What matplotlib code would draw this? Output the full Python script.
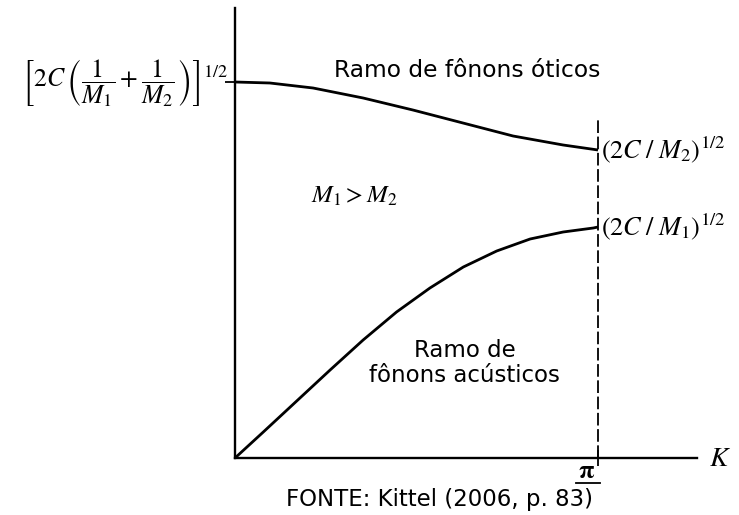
import numpy as np
import matplotlib
matplotlib.use("Agg")
import matplotlib.pyplot as plt
from matplotlib.transforms import ScaledTranslation

plt.rcParams["mathtext.fontset"] = "stix"
plt.rcParams["font.family"] = ["DejaVu Sans"]

# wavevector as a fraction of pi (zone boundary = 1)
k_optical = [0.0, 0.096, 0.215, 0.353, 0.49, 0.628, 0.766, 0.904, 1.0]
w_optical = [3.76, 3.75, 3.70, 3.60, 3.48, 3.35, 3.22, 3.13, 3.08]

k_acoustic = [0.0, 0.078, 0.170, 0.262, 0.353, 0.445, 0.537, 0.629,
              0.721, 0.813, 0.904, 0.987, 1.0]
w_acoustic = [0.0, 0.26, 0.57, 0.88, 1.18, 1.46, 1.70, 1.91,
              2.07, 2.19, 2.26, 2.30, 2.31]

k_edge = np.pi
dash_top = 3.40

fig = plt.figure(figsize=(7.39, 5.15), dpi=100)
ax = fig.add_axes([235 / 739, 57 / 515, 462 / 739, 450 / 515])

ko = np.array(k_optical) * np.pi
ka = np.array(k_acoustic) * np.pi

ax.plot(ko, w_optical, color="black", lw=2.0, solid_capstyle="butt",
        solid_joinstyle="round")
ax.plot(ka, w_acoustic, color="black", lw=2.0, solid_capstyle="butt",
        solid_joinstyle="round")

# zone boundary
ax.vlines(k_edge, 0, dash_top, colors="black", lw=1.3, linestyles=(0, (7, 2)))

ax.set_xlim(0, 462 / 363 * np.pi)
ax.set_ylim(0, 4.50)

for side in ["top", "right"]:
    ax.spines[side].set_visible(False)
ax.spines["left"].set_linewidth(1.7)
ax.spines["bottom"].set_linewidth(1.7)

ax.set_xticks([k_edge])
ax.set_xticklabels([r"$\mathbf{\pi}$"], fontsize=18)
ax.set_yticks([w_optical[0]])
ax.set_yticklabels([r"$\left[2C\,\left(\dfrac{1}{M_1}+\dfrac{1}{M_2}\right)\right]^{1/2}$"],
                   fontsize=18.5)
ax.tick_params(axis="x", direction="inout", length=12, width=1.3, pad=1)
ax.tick_params(axis="y", direction="out", length=7, width=1.3, pad=0)

# nudge the tick labels
for lab in ax.get_xticklabels():
    lab.set_transform(lab.get_transform() + ScaledTranslation(-0.11, 0.09, fig.dpi_scale_trans))
for lab in ax.get_yticklabels():
    lab.set_transform(lab.get_transform() + ScaledTranslation(0.03, 0.10, fig.dpi_scale_trans))

# bar under the pi label
px = np.pi / 363
ax.plot([k_edge - 22 * px, k_edge + 2 * px], [-0.245, -0.245], color="black",
        lw=1.3, clip_on=False)

# zone-edge frequencies
ax.text(k_edge + 0.03, w_optical[-1], r"$(2C\;/\;M_2)^{1/2}$", fontsize=19,
        ha="left", va="center", clip_on=False)
ax.text(k_edge + 0.03, w_acoustic[-1], r"$(2C\;/\;M_1)^{1/2}$", fontsize=19,
        ha="left", va="center", clip_on=False)

ax.text(462 / 363 * np.pi + 0.1, 0, r"$K$", fontsize=20,
        ha="left", va="center", clip_on=False)

ax.text(0.66, 2.62, r"$M_1 > M_2$", fontsize=18, ha="left", va="center")

ax.text(0.64 * np.pi, 3.81, "Ramo de fônons óticos", fontsize=16.8,
        ha="center", va="baseline")
ax.text(0.633 * np.pi, 0.76, "Ramo de\nfônons acústicos", fontsize=16.5,
        ha="center", va="baseline", linespacing=1.12)

fig.text(440 / 739, 1 - 506 / 515, "FONTE: Kittel (2006, p. 83)", fontsize=16.5,
         ha="center", va="baseline")

fig.savefig("out.png", dpi=100)
plt.close(fig)
